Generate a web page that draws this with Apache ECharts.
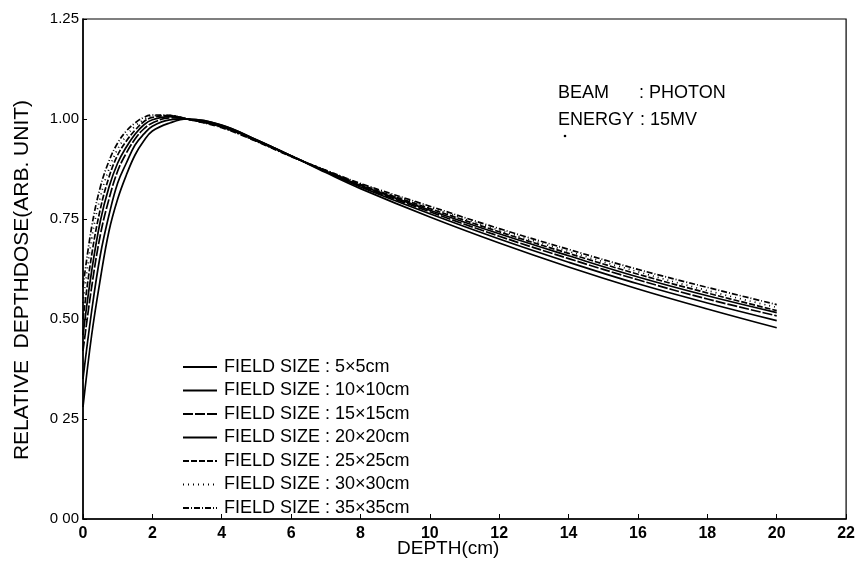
<!DOCTYPE html>
<html><head><meta charset="utf-8">
<script src="https://cdn.jsdelivr.net/npm/echarts@6/dist/echarts.min.js"></script>
<style>html,body{margin:0;padding:0;background:#fff}#c{width:858px;height:571px}</style>
</head><body><div id="c"></div>
<script>
const depth = [0,0.25,0.5,0.75,1,1.25,1.5,1.75,2,2.5,3,4,5,6,7,8,10,12,14,16,18,20];
const fs5  = [0.28,0.46,0.60,0.72,0.80,0.86,0.91,0.945,0.97,0.99,1.0,0.985,0.948,0.908,0.866,0.826,0.755,0.69,0.63,0.575,0.525,0.478];
const fs10 = [0.35,0.52,0.66,0.76,0.84,0.89,0.935,0.962,0.982,0.998,1.0,0.984,0.948,0.908,0.868,0.83,0.763,0.70,0.642,0.588,0.54,0.496];
const fs15 = [0.42,0.58,0.71,0.80,0.87,0.915,0.95,0.975,0.99,1.003,1.0,0.982,0.947,0.908,0.869,0.832,0.768,0.707,0.651,0.598,0.55,0.508];
const fs20 = [0.46,0.62,0.745,0.83,0.89,0.93,0.962,0.985,0.998,1.006,1.0,0.981,0.946,0.907,0.87,0.834,0.772,0.713,0.658,0.605,0.558,0.516];
const fs25 = [0.50,0.66,0.775,0.855,0.91,0.945,0.972,0.993,1.004,1.008,1.0,0.98,0.945,0.907,0.871,0.836,0.776,0.718,0.664,0.612,0.565,0.521];
const fs30 = [0.54,0.70,0.805,0.875,0.925,0.958,0.982,0.998,1.008,1.009,1.0,0.979,0.945,0.907,0.872,0.838,0.779,0.722,0.669,0.618,0.571,0.529];
const fs35 = [0.58,0.73,0.83,0.895,0.94,0.97,0.99,1.004,1.01,1.009,1.0,0.978,0.944,0.906,0.872,0.839,0.782,0.726,0.674,0.624,0.579,0.536];
const seriesNames = ['FIELD SIZE : 5×5cm','FIELD SIZE : 10×10cm','FIELD SIZE : 15×15cm','FIELD SIZE : 20×20cm','FIELD SIZE : 25×25cm','FIELD SIZE : 30×30cm','FIELD SIZE : 35×35cm'];
const yTickLabels = {'0':'0 00','0.25':'0 25','0.5':'0.50','0.75':'0.75','1':'1.00','1.25':'1.25'};
const xTickLabels = ['0','2','4','6','8','10','12','14','16','18','20','22'];

const allData = [fs5,fs10,fs15,fs20,fs25,fs30,fs35];
const dashTypes = ['solid','solid',[10,2],'solid',[6,2],[1,4],[6,2,1,2]];
const FONT = 'Liberation Sans, Arial, sans-serif';
const chart = echarts.init(document.getElementById('c'), null, {renderer:'canvas'});
chart.setOption({
  animation:false,
  backgroundColor:'#fff',
  grid:{left:83,right:11,top:19,bottom:52,show:true,borderColor:'#000',borderWidth:1.2},
  legend:{
    show:true, orient:'vertical', left:177, top:353, itemWidth:34, itemHeight:14, itemGap:5.5,
    itemStyle:{opacity:0,borderWidth:0},
    textStyle:{fontFamily:FONT,fontSize:18,color:'#000',padding:[0,0,0,2]},
    data:seriesNames
  },
  xAxis:{type:'value',min:0,max:22,interval:2,
    axisLine:{onZero:false,lineStyle:{color:'#000',width:1.5}},
    axisTick:{inside:true,length:5,lineStyle:{color:'#000'}},
    splitLine:{show:false},
    axisLabel:{color:'#000',fontFamily:FONT,fontSize:16,fontWeight:'bold',margin:7,
      formatter:v=>xTickLabels[Math.round(v/2)]}
  },
  yAxis:{type:'value',min:0,max:1.25,interval:0.25,
    axisLine:{show:true,onZero:false,lineStyle:{color:'#000',width:1.5}},
    axisTick:{show:true,inside:true,length:4,lineStyle:{color:'#000'}},
    splitLine:{show:false},
    axisLabel:{color:'#000',fontFamily:FONT,fontSize:15,margin:4,
      formatter:v=>yTickLabels[String(+v.toFixed(2))]}
  },
  graphic:[
    {type:'text',left:558,top:84,style:{text:'BEAM',font:'18px '+FONT,fill:'#000'}},
    {type:'text',left:639,top:84,style:{text:': PHOTON',font:'18px '+FONT,fill:'#000'}},
    {type:'text',left:558,top:111,style:{text:'ENERGY',font:'18px '+FONT,fill:'#000'}},
    {type:'text',left:640,top:111,style:{text:': 15MV',font:'18px '+FONT,fill:'#000'}},
    {type:'circle',shape:{cx:565,cy:136,r:1.3},style:{fill:'#000'}},
    {type:'text',left:397,top:539,style:{text:'DEPTH(cm)',font:'19px '+FONT,fill:'#000'}},
    {type:'text',x:22,y:280,rotation:Math.PI/2,style:{text:'RELATIVE  DEPTHDOSE(ARB. UNIT)',font:'21px '+FONT,fill:'#000',align:'center',verticalAlign:'middle'}}
  ],
  series: allData.map((d,i)=>({
    name:seriesNames[i], type:'line', smooth:0.4, showSymbol:false, symbol:'none',
    data: depth.map((x,j)=>[x,d[j]]),
    lineStyle:{color:'#000',width:1.7,type:dashTypes[i]},
    itemStyle:{color:'#000'}
  }))
});
</script></body></html>
